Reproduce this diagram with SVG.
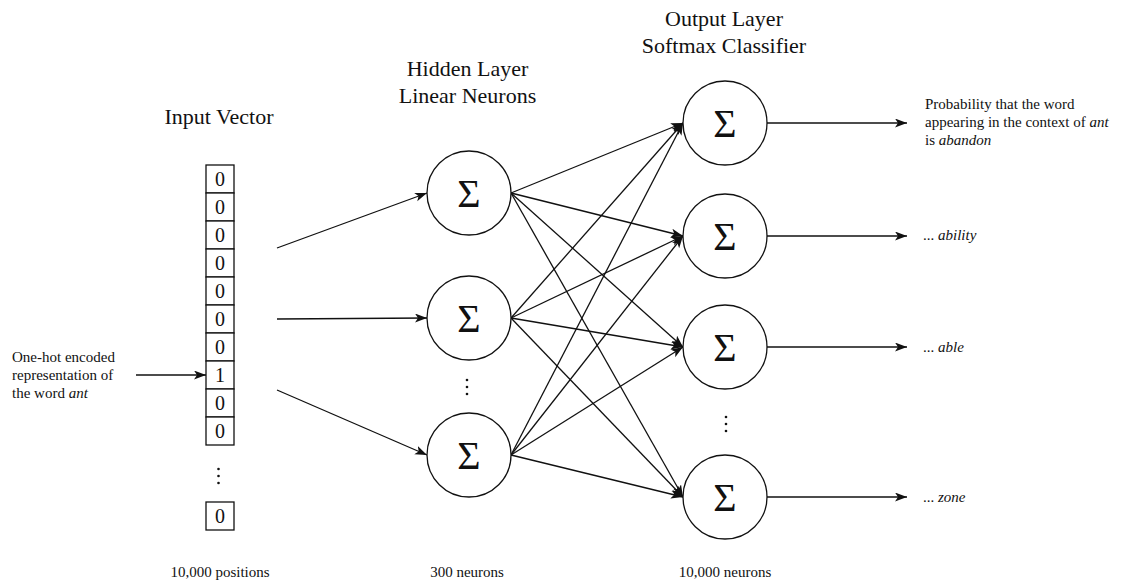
<svg xmlns="http://www.w3.org/2000/svg" width="1121" height="583" viewBox="0 0 1121 583" font-family="'Liberation Serif', 'Times New Roman', 'DejaVu Serif', serif">
<style>
text{font-family:'Liberation Serif','Times New Roman','DejaVu Serif',serif;fill:#111}
.title{font-size:22px;text-anchor:middle}
.small{font-size:15px}
.mid{text-anchor:middle}
.digit{font-size:20px;text-anchor:middle}
.sig{font-size:40px;text-anchor:middle}
.box{fill:#fff;stroke:#111;stroke-width:1.3}
.neuron{fill:#fff;stroke:#111;stroke-width:1.3}
.edge{stroke:#111;stroke-width:1.3;fill:none;marker-end:url(#arr)}
.dot{fill:#111}
.it{font-style:italic}
</style>
<defs>
<marker id="arr" markerUnits="userSpaceOnUse" markerWidth="13" markerHeight="10" refX="12" refY="4.5" orient="auto">
<path d="M0,0 L12,4.5 L0,9 L3,4.5 Z" fill="#111"/>
</marker>
</defs>
<rect width="1121" height="583" fill="#fff"/>

<g id="titles">
<text class="title" x="219" y="124">Input Vector</text>
<text class="title" x="467.5" y="76">Hidden Layer</text>
<text class="title" x="467.5" y="103">Linear Neurons</text>
<text class="title" x="724" y="26">Output Layer</text>
<text class="title" x="724" y="53">Softmax Classifier</text>
</g>

<g id="connectors">
<line class="edge" x1="136" y1="375" x2="206" y2="375"/>
<line class="edge" x1="277" y1="248" x2="427" y2="193"/>
<line class="edge" x1="277" y1="319" x2="427" y2="318"/>
<line class="edge" x1="277" y1="390" x2="427" y2="455"/>
<line class="edge" x1="511" y1="193" x2="683" y2="123"/>
<line class="edge" x1="511" y1="193" x2="683" y2="236"/>
<line class="edge" x1="511" y1="193" x2="683" y2="347"/>
<line class="edge" x1="511" y1="193" x2="683" y2="497"/>
<line class="edge" x1="511" y1="318" x2="683" y2="123"/>
<line class="edge" x1="511" y1="318" x2="683" y2="236"/>
<line class="edge" x1="511" y1="318" x2="683" y2="347"/>
<line class="edge" x1="511" y1="318" x2="683" y2="497"/>
<line class="edge" x1="511" y1="455" x2="683" y2="123"/>
<line class="edge" x1="511" y1="455" x2="683" y2="236"/>
<line class="edge" x1="511" y1="455" x2="683" y2="347"/>
<line class="edge" x1="511" y1="455" x2="683" y2="497"/>
<line class="edge" x1="767" y1="123" x2="907" y2="123"/>
<line class="edge" x1="767" y1="236" x2="907" y2="236"/>
<line class="edge" x1="767" y1="347" x2="907" y2="347"/>
<line class="edge" x1="767" y1="497" x2="907" y2="497"/>
</g>

<g id="input-label">
<text class="small" x="12" y="362">One-hot encoded</text>
<text class="small" x="12" y="380">representation of</text>
<text class="small" x="12" y="398">the word <tspan class="it">ant</tspan></text>
</g>

<g id="input-vector">
<rect class="box" x="206" y="165" width="28" height="28"/>
<rect class="box" x="206" y="193" width="28" height="28"/>
<rect class="box" x="206" y="221" width="28" height="28"/>
<rect class="box" x="206" y="249" width="28" height="28"/>
<rect class="box" x="206" y="277" width="28" height="28"/>
<rect class="box" x="206" y="305" width="28" height="28"/>
<rect class="box" x="206" y="333" width="28" height="28"/>
<rect class="box" x="206" y="361" width="28" height="28"/>
<rect class="box" x="206" y="389" width="28" height="28"/>
<rect class="box" x="206" y="417" width="28" height="28"/>
<rect class="box" x="206" y="502" width="28" height="28"/>
<text class="digit" x="220" y="186">0</text>
<text class="digit" x="220" y="214">0</text>
<text class="digit" x="220" y="242">0</text>
<text class="digit" x="220" y="270">0</text>
<text class="digit" x="220" y="298">0</text>
<text class="digit" x="220" y="326">0</text>
<text class="digit" x="220" y="354">0</text>
<text class="digit" x="220" y="382">1</text>
<text class="digit" x="220" y="410">0</text>
<text class="digit" x="220" y="438">0</text>
<text class="digit" x="220" y="523">0</text>
<circle class="dot" cx="218.5" cy="469" r="1.3"/>
<circle class="dot" cx="218.5" cy="476" r="1.3"/>
<circle class="dot" cx="218.5" cy="483" r="1.3"/>
</g>

<g id="hidden-1"><circle class="neuron" cx="469" cy="193" r="42"/><text class="sig" x="469" y="206.5">Σ</text></g>
<g id="hidden-2"><circle class="neuron" cx="469" cy="318" r="42"/><text class="sig" x="469" y="331.5">Σ</text></g>
<g id="hidden-dots">
<circle class="dot" cx="467" cy="380" r="1.3"/>
<circle class="dot" cx="467" cy="387" r="1.3"/>
<circle class="dot" cx="467" cy="394" r="1.3"/>
</g>
<g id="hidden-3"><circle class="neuron" cx="469" cy="455" r="42"/><text class="sig" x="469" y="468.5">Σ</text></g>

<g id="output-1"><circle class="neuron" cx="725" cy="123" r="42"/><text class="sig" x="725" y="136.5">Σ</text></g>
<g id="output-2"><circle class="neuron" cx="725" cy="236" r="42"/><text class="sig" x="725" y="249.5">Σ</text></g>
<g id="output-3"><circle class="neuron" cx="725" cy="347" r="42"/><text class="sig" x="725" y="360.5">Σ</text></g>
<g id="output-dots">
<circle class="dot" cx="726" cy="417" r="1.3"/>
<circle class="dot" cx="726" cy="424" r="1.3"/>
<circle class="dot" cx="726" cy="431" r="1.3"/>
</g>
<g id="output-4"><circle class="neuron" cx="725" cy="497" r="42"/><text class="sig" x="725" y="510.5">Σ</text></g>

<g id="output-labels">
<text class="small" x="925" y="109">Probability that the word</text>
<text class="small" x="925" y="127">appearing in the context of <tspan class="it">ant</tspan></text>
<text class="small" x="925" y="145">is <tspan class="it">abandon</tspan></text>
<text class="small" x="923" y="240">... <tspan class="it">ability</tspan></text>
<text class="small" x="923" y="352">... <tspan class="it">able</tspan></text>
<text class="small" x="923" y="502">... <tspan class="it">zone</tspan></text>
</g>

<g id="counts">
<text class="small mid" x="220" y="577">10,000 positions</text>
<text class="small mid" x="467" y="577">300 neurons</text>
<text class="small mid" x="725" y="577">10,000 neurons</text>
</g>
</svg>
